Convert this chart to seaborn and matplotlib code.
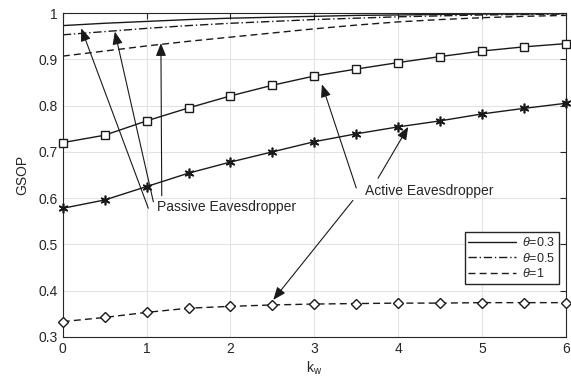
import numpy as np
import pandas as pd
import matplotlib
matplotlib.use('Agg')
import matplotlib.pyplot as plt
import seaborn as sns

# k_w 값과 GSOP 값
kw = [0, 0.5, 1, 1.5, 2, 2.5, 3, 3.5, 4, 4.5, 5, 5.5, 6]
passive_03 = [0.973, 0.978, 0.982, 0.986, 0.989, 0.991, 0.993, 0.995, 0.996, 0.997, 0.998, 0.998, 0.999]
passive_05 = [0.953, 0.960, 0.967, 0.973, 0.978, 0.982, 0.986, 0.989, 0.992, 0.994, 0.996, 0.997, 0.998]
passive_1 = [0.907, 0.918, 0.929, 0.939, 0.948, 0.957, 0.966, 0.974, 0.981, 0.986, 0.990, 0.993, 0.995]
active_03 = [0.720, 0.736, 0.767, 0.795, 0.821, 0.844, 0.864, 0.879, 0.893, 0.906, 0.918, 0.927, 0.934]
active_05 = [0.578, 0.596, 0.625, 0.654, 0.678, 0.700, 0.722, 0.739, 0.754, 0.767, 0.782, 0.794, 0.805]
active_1 = [0.333, 0.342, 0.353, 0.362, 0.366, 0.369, 0.371, 0.372, 0.373, 0.373, 0.374, 0.374, 0.374]

legend_labels = [r'$\theta$=0.3', r'$\theta$=0.5', r'$\theta$=1']

sns.set_theme(style='whitegrid')
plt.rcParams['font.family'] = ['Liberation Sans', 'DejaVu Sans']
plt.rcParams['mathtext.fontset'] = 'custom'
plt.rcParams['mathtext.rm'] = 'Liberation Sans'
plt.rcParams['mathtext.it'] = 'Liberation Sans:italic'

fig = plt.figure(figsize=(5.71, 3.85), dpi=100)
ax = fig.add_axes([0.110, 0.125, 0.881, 0.841])

lw = 1.0
# passive (no markers)
sns.lineplot(x=kw, y=passive_03, ax=ax, color='k', lw=lw, label=legend_labels[0])
sns.lineplot(x=kw, y=passive_05, ax=ax, color='k', lw=lw, label=legend_labels[1])
sns.lineplot(x=kw, y=passive_1, ax=ax, color='k', lw=lw, label=legend_labels[2])
ax.lines[1].set_dashes([6, 2, 1, 2])
ax.lines[2].set_dashes([5, 3])

# active (markers)
sns.lineplot(x=kw, y=active_03, ax=ax, color='k', lw=lw, marker='s', ms=6,
             mfc='white', mec='k', mew=1.0)
sns.lineplot(x=kw, y=active_05, ax=ax, color='k', lw=lw, marker=(6, 2, 0), ms=7,
             mec='k', mew=1.2)
sns.lineplot(x=kw, y=active_1, ax=ax, color='k', lw=lw, marker='D', ms=5.5,
             mfc='white', mec='k', mew=1.0)
ax.lines[5].set_dashes([5, 3])
for ln in ax.lines[3:6]:
    ln.set_clip_on(False)
    ln.set_zorder(5)

ax.set_xlim(0, 6)
ax.set_ylim(0.3, 1.0)
ax.set_xticks(range(0, 7))
ax.set_yticks([0.3, 0.4, 0.5, 0.6, 0.7, 0.8, 0.9, 1.0])
ax.set_yticklabels(['0.3', '0.4', '0.5', '0.6', '0.7', '0.8', '0.9', '1'])
ax.set_xlabel(r'k$_{\rm w}$', fontsize=10, color='#262626', labelpad=2)
ax.set_ylabel('GSOP', fontsize=10, color='#262626', labelpad=6)

ax.grid(True, color='#e3e3e3', lw=0.8)
ax.tick_params(direction='in', top=True, right=True, length=4, width=0.8,
               labelsize=10, colors='#262626', pad=4)
for s in ax.spines.values():
    s.set_color('#262626')
    s.set_linewidth(0.8)

# annotations
arr = dict(arrowstyle='-|>,head_length=0.55,head_width=0.22', color='k', lw=0.8,
           mutation_scale=14, shrinkA=0, shrinkB=0)
for tip, tail in [((0.22, 0.967), (1.02, 0.578)),
                  ((0.62, 0.960), (1.08, 0.592)),
                  ((1.17, 0.935), (1.18, 0.605))]:
    ax.annotate('', xy=tip, xytext=tail, arrowprops=arr)
ax.text(1.12, 0.580, 'Passive Eavesdropper', fontsize=10, va='center', ha='left')

for tip, tail in [((3.09, 0.846), (3.50, 0.622)),
                  ((4.12, 0.754), (3.76, 0.643)),
                  ((2.51, 0.380), (3.46, 0.595))]:
    ax.annotate('', xy=tip, xytext=tail, arrowprops=arr)
ax.text(3.60, 0.616, 'Active Eavesdropper', fontsize=10, va='center', ha='left')

handles = ax.lines[:3]
ax.legend(handles, legend_labels, loc='lower right', bbox_to_anchor=(0.986, 0.164),
          borderaxespad=0, fontsize=9, frameon=True, fancybox=False,
          edgecolor='#262626', framealpha=1, borderpad=0.3, labelspacing=0.2,
          handlelength=3.8, handletextpad=0.5)

plt.savefig('out.png', dpi=100)
